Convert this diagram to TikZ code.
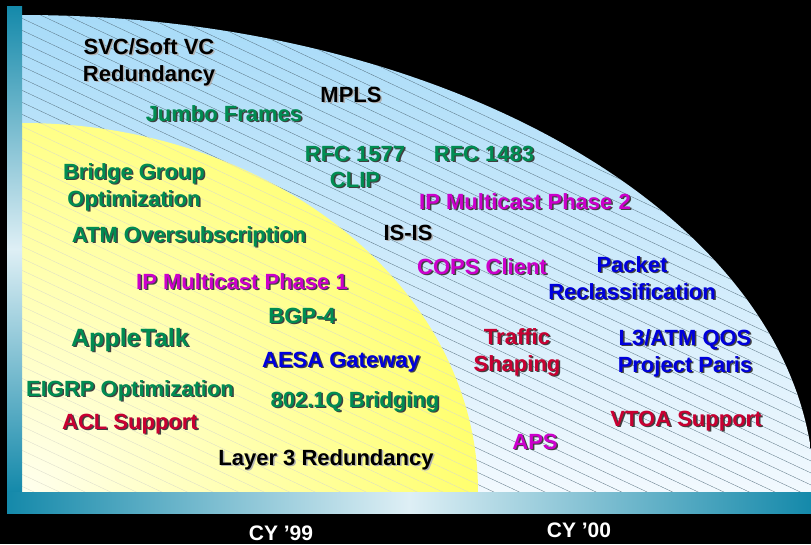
\documentclass[tikz,border=0pt]{standalone}
\usepackage{fontspec}
\setmainfont{Liberation Sans}

\definecolor{grn}{RGB}{0,140,82}
\definecolor{mag}{RGB}{204,0,204}
\definecolor{blu}{RGB}{0,0,220}
\definecolor{rd}{RGB}{200,0,50}
\definecolor{barteal}{RGB}{20,137,170}
\definecolor{barlight}{RGB}{222,239,245}
\definecolor{skyout}{RGB}{165,218,248}
\definecolor{skyin}{RGB}{242,249,254}
\definecolor{yelin}{RGB}{255,255,238}
\definecolor{yelout}{RGB}{255,255,105}

% text with a drop shadow, lines split by \\
\newcommand{\shtxt}[2][black!75]{\leavevmode\rlap{\kern1.5pt\raisebox{-1.5pt}{\color{#1}\begin{tabular}{@{}c@{}}#2\end{tabular}}}\begin{tabular}{@{}c@{}}#2\end{tabular}}

\tikzset{lbl/.style={inner sep=0pt, font=\bfseries\fontsize{22}{27}\selectfont}}

\begin{document}
\begin{tikzpicture}[x=1pt,y=-1pt]

\fill[black] (0,0) rectangle (811,544);
\useasboundingbox (0,0) rectangle (811,544);

% CY '00 area
\begin{scope}
\clip (7,0) rectangle (811,492);
\clip (22,492) ellipse (792 and 477);
\shade[shading angle=-58, top color=skyout, bottom color=skyin] (7,0) rectangle (811,492);
\foreach \c in {-400,-388,...,500}
  \draw[black!50!skyout, line width=0.3pt] (0,\c) -- (811,\c+381);
\end{scope}

% CY '99 area
\begin{scope}
\clip (7,0) rectangle (811,492);
\clip (22,492) ellipse (456 and 369);
\shade[inner color=yelin, outer color=yelout] (22,492) circle (470);
\foreach \c in {-400,-388,...,500}
  \draw[black!15!yelin, line width=0.3pt] (0,\c) -- (811,\c+381);
\end{scope}

% axes
\shade[top color=barteal, bottom color=barteal, middle color=barlight] (7,6) rectangle (22,492);
\shade[left color=barteal, right color=barteal, middle color=barlight] (7,492) rectangle (811,513);

% features
\path
(149,63.1)   node[lbl] (svc) {\shtxt[black!30]{SVC/Soft VC\\Redundancy}}
(224,116.6)  node[lbl, text=grn] (jumbo) {\shtxt{Jumbo Frames}}
(351,97.6)   node[lbl] (mpls) {\shtxt[black!30]{MPLS}}
(355,156.6)  node[lbl, text=grn] (rfc1577) {\shtxt{RFC 1577}}
(484,156.6)  node[lbl, text=grn] (rfc1483) {\shtxt{RFC 1483}}
(355,182.6)  node[lbl, text=grn] (clip) {\shtxt{CLIP}}
(525,204.6)  node[lbl, text=mag] (ipmc2) {\shtxt{IP Multicast Phase 2}}
(408,235.6)  node[lbl] (isis) {\shtxt[black!30]{IS-IS}}
(134,188)    node[lbl, text=grn] (bridge) {\shtxt{Bridge Group\\Optimization}}
(189,237.6)  node[lbl, text=grn] (atm) {\shtxt{ATM Oversubscription}}
(242,284.6)  node[lbl, text=mag] (ipmc1) {\shtxt{IP Multicast Phase 1}}
(302,318.6)  node[lbl, text=grn] (bgp) {\shtxt{BGP-4}}
(130,341.4)  node[lbl, text=grn, font=\bfseries\fontsize{25}{28}\selectfont] (apple) {\shtxt{AppleTalk}}
(341,362.6)  node[lbl, text=blu] (aesa) {\shtxt{AESA Gateway}}
(130,391.6)  node[lbl, text=grn] (eigrp) {\shtxt{EIGRP Optimization}}
(355,402.6)  node[lbl, text=grn] (dot1q) {\shtxt{802.1Q Bridging}}
(130,424.6)  node[lbl, text=rd] (acl) {\shtxt{ACL Support}}
(326,460.6)  node[lbl] (layer3) {\shtxt[black!30]{Layer 3 Redundancy}}
(482,269.6)  node[lbl, text=mag] (cops) {\shtxt{COPS Client}}
(632,281)    node[lbl, text=blu] (packet) {\shtxt{Packet\\Reclassification}}
(517,353)    node[lbl, text=rd] (traffic) {\shtxt{Traffic\\Shaping}}
(685,354)    node[lbl, text=blu] (l3atm) {\shtxt{L3/ATM QOS\\Project Paris}}
(686,421.6)  node[lbl, text=rd] (vtoa) {\shtxt{VTOA Support}}
(535,444.6)  node[lbl, text=mag] (aps) {\shtxt{APS}}
;

% years
\path
(281,540) node[lbl, anchor=base, text=white, font=\bfseries\fontsize{21}{26}\selectfont] (cy99) {CY '99}
(579,537) node[lbl, anchor=base, text=white, font=\bfseries\fontsize{21}{26}\selectfont] (cy00) {CY '00}
;

\end{tikzpicture}
\end{document}
